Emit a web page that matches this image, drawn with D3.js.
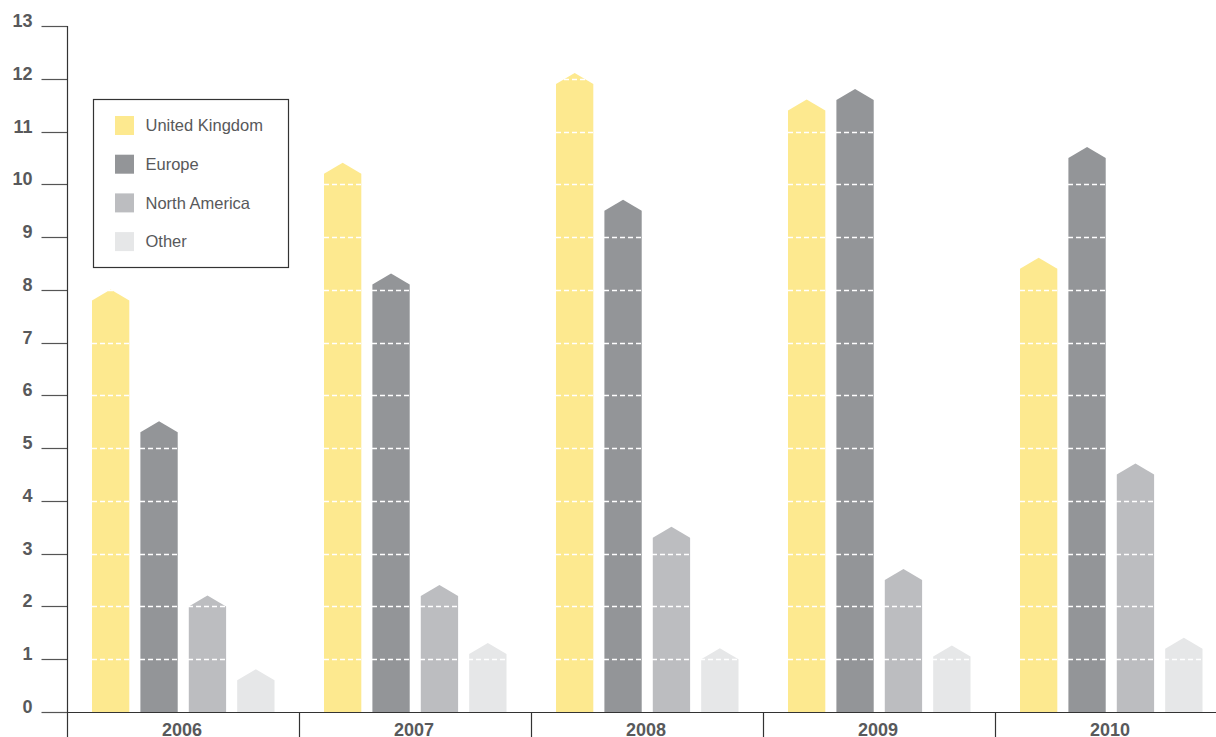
<!DOCTYPE html>
<html>
<head>
<meta charset="utf-8">
<script src="https://cdn.jsdelivr.net/npm/d3@7/dist/d3.min.js"></script>
<style>
  html, body { margin: 0; padding: 0; background: #fff; }
  svg { display: block; font-family: "Liberation Sans", Arial, Helvetica, sans-serif; }
</style>
</head>
<body>
<svg id="chart" width="1216" height="737"></svg>
<script>
// Revenue by region, 2006–2010
const years = ["2006", "2007", "2008", "2009", "2010"];
const seriesNames = ["United Kingdom", "Europe", "North America", "Other"];
const seriesColors = ["#fde98f", "#939598", "#bcbdc0", "#e6e7e8"];
const unitedKingdom = [7.8, 10.2, 11.9, 11.4, 8.4];
const europe = [5.3, 8.1, 9.5, 11.6, 10.5];
const northAmerica = [2.0, 2.2, 3.3, 2.5, 4.5];
const other = [0.6, 1.1, 1.0, 1.05, 1.2];
const yTicks = [0, 1, 2, 3, 4, 5, 6, 7, 8, 9, 10, 11, 12, 13];

const seriesValues = [unitedKingdom, europe, northAmerica, other];
const rows = [];
years.forEach((yr, i) => {
  seriesNames.forEach((s, j) => {
    rows.push({ year: yr, series: s, value: seriesValues[j][i], color: seriesColors[j] });
  });
});

const svg = d3.select("#chart");
const plotLeft = 67, plotTop = 26, plotBottom = 712;
const bandW = 232;

const y = d3.scaleLinear().domain([0, 13]).range([plotBottom, plotTop]);
const x = d3.scaleBand().domain(years).range([plotLeft, plotLeft + bandW * years.length]).padding(0);
const xi = d3.scaleBand().domain(seriesNames).range([25, 207.5]).paddingInner(0.229).paddingOuter(0);

const peak = 11; // height of the pointed cap above each bar's value

// bars with pointed tops
svg.append("g").selectAll("path").data(rows).join("path")
  .attr("fill", d => d.color)
  .attr("d", d => {
    const x0 = x(d.year) + xi(d.series);
    const w = xi.bandwidth();
    const yv = y(d.value);
    const y0 = y(0);
    return `M${x0},${y0}L${x0},${yv}L${x0 + w / 2},${yv - peak}L${x0 + w},${yv}L${x0 + w},${y0}Z`;
  });

// white dashed grid lines over the bars
svg.append("g").selectAll("line").data(yTicks.filter(t => t > 0)).join("line")
  .attr("x1", plotLeft + 1).attr("x2", 1216)
  .attr("y1", d => Math.round(y(d)) + 0.5).attr("y2", d => Math.round(y(d)) + 0.5)
  .attr("stroke", "#ffffff").attr("stroke-width", 1.3)
  .attr("stroke-dasharray", "5,3");

// y axis
const yAxis = d3.axisLeft(y).tickValues(yTicks).tickSize(26).tickPadding(9).tickFormat(d3.format("d"));
const gy = svg.append("g").attr("transform", `translate(${plotLeft + 0.5},0)`).call(yAxis);
gy.select(".domain").remove();
gy.selectAll(".tick line").attr("stroke", "#555").attr("stroke-width", 1.2);
gy.selectAll(".tick text")
  .attr("fill", "#58595b").attr("font-size", 18).attr("font-weight", "bold")
  .attr("dy", "0.05em");
gy.selectAll(".tick").attr("transform", d => `translate(0,${Math.round(y(d)) + 0.5})`);
svg.append("line")
  .attr("x1", plotLeft + 0.5).attr("x2", plotLeft + 0.5).attr("y1", plotTop).attr("y2", 737)
  .attr("stroke", "#333").attr("stroke-width", 1.2);

// x axis baseline, band separators and year labels
svg.append("line")
  .attr("x1", plotLeft).attr("x2", 1216).attr("y1", plotBottom + 0.5).attr("y2", plotBottom + 0.5)
  .attr("stroke", "#333").attr("stroke-width", 1.2);
const gx = svg.append("g");
gx.selectAll("line").data(years.slice(1)).join("line")
  .attr("x1", d => x(d) + 0.5).attr("x2", d => x(d) + 0.5)
  .attr("y1", plotBottom).attr("y2", 737)
  .attr("stroke", "#333").attr("stroke-width", 1.2);
gx.selectAll("text").data(years).join("text")
  .attr("x", d => x(d) + x.bandwidth() / 2 - 1)
  .attr("y", 736)
  .attr("text-anchor", "middle")
  .attr("fill", "#58595b").attr("font-size", 18).attr("font-weight", "bold")
  .text(d => d);

// legend
const lg = svg.append("g").attr("transform", "translate(93.5,99.5)");
lg.append("rect").attr("width", 195).attr("height", 168)
  .attr("fill", "#fff").attr("stroke", "#333").attr("stroke-width", 1.2);
const items = lg.selectAll("g").data(seriesNames).join("g")
  .attr("transform", (d, i) => `translate(21.5,${16.5 + i * 38.7})`);
items.append("rect").attr("width", 19).attr("height", 19)
  .attr("fill", (d, i) => seriesColors[i]);
items.append("text").attr("x", 30.5).attr("y", 9.5).attr("dy", "0.35em")
  .attr("fill", "#58595b").attr("font-size", 16.5).text(d => d);
</script>
</body>
</html>
